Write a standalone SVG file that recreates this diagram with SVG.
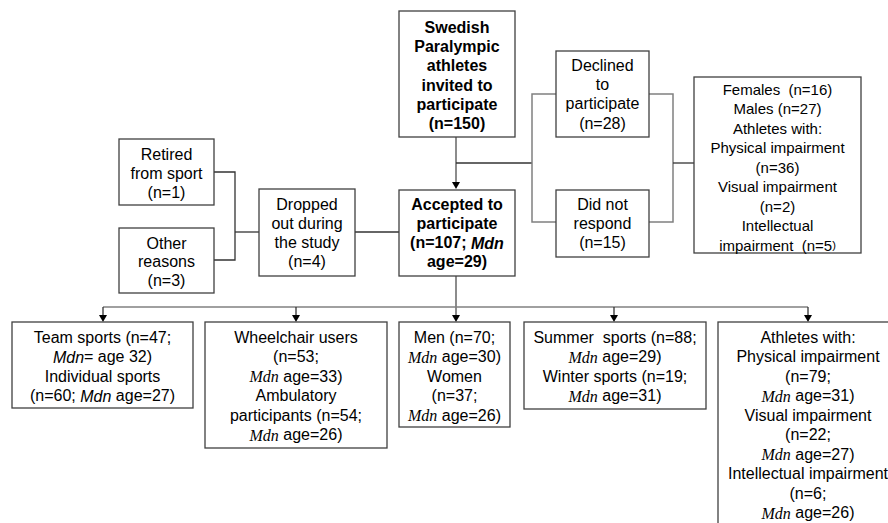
<svg xmlns="http://www.w3.org/2000/svg" width="888" height="523" viewBox="0 0 888 523">
<style>
  .box { fill: #ffffff; stroke: #404040; stroke-width: 1.3; }
  text { font-family: "Liberation Sans", Arial, sans-serif; font-size: 16px; fill: #000000; text-anchor: middle; dominant-baseline: central; }
  .s15 { font-size: 15px; }
  .b { font-weight: bold; }
  .i { font-style: italic; }
  .m { font-family: "Liberation Serif", "DejaVu Serif", serif; font-style: italic; font-size: 16px; }
  .c1 { fill: none; stroke: #8c8c8c; stroke-width: 2; }
  .c2 { fill: none; stroke: #808080; stroke-width: 1.5; }
  .c3 { fill: none; stroke: #333333; stroke-width: 1.3; }
  .ah { fill: #000000; }
</style>

<g id="connectors">
  <path class="c1" d="M456,137 V183" />
  <path class="ah" d="M452,182 L460,182 L456,189 Z"/>
  <path class="c3" d="M456,163 H532" />
  <path class="c2" d="M556,94 H532 V222 H556" />
  <path class="c2" d="M649,94 H673 V222 H649" />
  <path class="c3" d="M673,163 H694" />
  <path class="c3" d="M355,232 H399" />
  <path class="c3" d="M214,172 H235 V260 H214" />
  <path class="c3" d="M235,232 H259" />
  <path class="c1" d="M456,276 V316" />
  <path class="c2" d="M103,307 H808" />
  <path class="c3" d="M103,307 V316" />
  <path class="c3" d="M296,307 V316" />
  <path class="c3" d="M614,307 V316" />
  <path class="c3" d="M808,307 V316" />
  <path class="ah" d="M99,315 L107,315 L103,322 Z"/>
  <path class="ah" d="M292,315 L300,315 L296,322 Z"/>
  <path class="ah" d="M452,315 L460,315 L456,322 Z"/>
  <path class="ah" d="M610,315 L618,315 L614,322 Z"/>
  <path class="ah" d="M804,315 L812,315 L808,322 Z"/>
</g>

<g id="invited">
  <rect class="box" x="399" y="11" width="116" height="126"/>
  <text class="b" x="457" y="27">Swedish</text>
  <text class="b" x="457" y="46.5">Paralympic</text>
  <text class="b" x="457" y="65.5">athletes</text>
  <text class="b" x="457" y="85">invited to</text>
  <text class="b" x="457" y="104">participate</text>
  <text class="b" x="457" y="123">(n=150)</text>
</g>

<g id="declined">
  <rect class="box" x="556" y="51" width="93" height="86"/>
  <text x="602.5" y="65">Declined</text>
  <text x="602.5" y="84">to</text>
  <text x="602.5" y="103.5">participate</text>
  <text x="602.5" y="123">(n=28)</text>
</g>

<g id="norespond">
  <rect class="box" x="556" y="190" width="93" height="67"/>
  <text x="602.5" y="204">Did not</text>
  <text x="602.5" y="223">respond</text>
  <text x="602.5" y="242.5">(n=15)</text>
</g>

<g id="nonparticipants">
  <rect class="box" x="694" y="77" width="167" height="176"/>
  <text class="s15" x="777.5" y="89" xml:space="preserve">Females  (n=16)</text>
  <text class="s15" x="777.5" y="108.5">Males (n=27)</text>
  <text class="s15" x="777.5" y="128">Athletes with:</text>
  <text class="s15" x="777.5" y="147.5">Physical impairment</text>
  <text class="s15" x="777.5" y="167">(n=36)</text>
  <text class="s15" x="777.5" y="186.5">Visual impairment</text>
  <text class="s15" x="777.5" y="206">(n=2)</text>
  <text class="s15" x="777.5" y="225.5">Intellectual</text>
  <text class="s15" x="777.5" y="245" xml:space="preserve">impairment  (n=5<tspan font-size="11">)</tspan></text>
</g>

<g id="accepted">
  <rect class="box" x="399" y="190" width="116" height="86"/>
  <text class="b" x="457" y="204">Accepted to</text>
  <text class="b" x="457" y="223">participate</text>
  <text class="b" x="457" y="242.5">(n=107; <tspan class="i">Mdn</tspan></text>
  <text class="b" x="457" y="261.5">age=29)</text>
</g>

<g id="dropped">
  <rect class="box" x="259" y="189" width="96" height="87"/>
  <text x="307" y="204">Dropped</text>
  <text x="307" y="223">out during</text>
  <text x="307" y="242">the study</text>
  <text x="307" y="261">(n=4)</text>
</g>

<g id="retired">
  <rect class="box" x="119" y="139" width="95" height="66"/>
  <text x="166.5" y="154">Retired</text>
  <text x="166.5" y="173">from sport</text>
  <text x="166.5" y="192.5">(n=1)</text>
</g>

<g id="other">
  <rect class="box" x="119" y="228" width="95" height="65"/>
  <text x="166.5" y="243">Other</text>
  <text x="166.5" y="261.5">reasons</text>
  <text x="166.5" y="280">(n=3)</text>
</g>

<g id="sporttype">
  <rect class="box" x="12" y="322" width="181" height="86"/>
  <text x="102.5" y="337">Team sports (n=47;</text>
  <text x="102.5" y="356.5"><tspan class="i">Mdn</tspan>= age 32)</text>
  <text x="102.5" y="376">Individual sports</text>
  <text x="102.5" y="395.5">(n=60; <tspan class="i">Mdn</tspan> age=27)</text>
</g>

<g id="mobility">
  <rect class="box" x="205" y="322" width="182" height="126"/>
  <text x="296" y="337">Wheelchair users</text>
  <text x="296" y="356.5">(n=53;</text>
  <text x="296" y="376"><tspan class="m">Mdn</tspan> age=33)</text>
  <text x="296" y="395.5">Ambulatory</text>
  <text x="296" y="415">participants (n=54;</text>
  <text x="296" y="434.5"><tspan class="m">Mdn</tspan> age=26)</text>
</g>

<g id="gender">
  <rect class="box" x="399" y="322" width="111" height="105"/>
  <text x="454.5" y="337">Men (n=70;</text>
  <text x="454.5" y="356.5"><tspan class="m">Mdn</tspan> age=30)</text>
  <text x="454.5" y="376">Women</text>
  <text x="454.5" y="395.5">(n=37;</text>
  <text x="454.5" y="415"><tspan class="m">Mdn</tspan> age=26)</text>
</g>

<g id="season">
  <rect class="box" x="524" y="322" width="182" height="87"/>
  <text x="615" y="337" xml:space="preserve">Summer  sports (n=88;</text>
  <text x="615" y="356.5"><tspan class="m">Mdn</tspan> age=29)</text>
  <text x="615" y="376">Winter sports (n=19;</text>
  <text x="615" y="395.5"><tspan class="m">Mdn</tspan> age=31)</text>
</g>

<g id="impairment">
  <rect class="box" x="718" y="322" width="185" height="220"/>
  <text x="808" y="337">Athletes with:</text>
  <text x="808" y="356.5">Physical impairment</text>
  <text x="808" y="376">(n=79;</text>
  <text x="808" y="395.5"><tspan class="m">Mdn</tspan> age=31)</text>
  <text x="808" y="415">Visual impairment</text>
  <text x="808" y="434.5">(n=22;</text>
  <text x="808" y="454"><tspan class="m">Mdn</tspan> age=27)</text>
  <text x="808" y="473.5">Intellectual impairment</text>
  <text x="808" y="493">(n=6;</text>
  <text x="808" y="512.5"><tspan class="m">Mdn</tspan> age=26)</text>
</g>
</svg>
